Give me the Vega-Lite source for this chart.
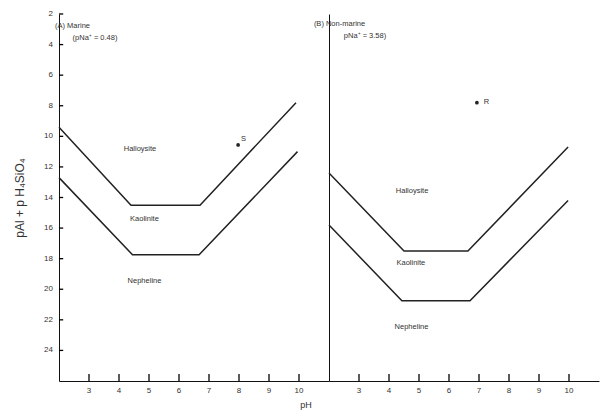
{
  "$schema": "https://vega.github.io/schema/vega-lite/v6.json",
  "padding": {"left": 13, "top": 10, "right": 2, "bottom": 5},
  "background": "white",
  "spacing": 0,
  "bounds": "flush",
  "title": {"text": "pH", "orient": "bottom", "anchor": "middle", "fontSize": 9, "font": "Liberation Sans", "fontWeight": "normal", "color": "#333", "offset": 6},
  "config": {
    "view": {"stroke": null},
    "concat": {"spacing": 0},
    "font": "Liberation Sans",
    "axis": {"domainColor": "#111", "grid": false, "labels": false, "ticks": false, "titleFont": "Liberation Sans", "titleFontWeight": "normal", "titleColor": "#333"}
  },
  "datasets": {
    "lines": [
      {"panel": "A", "boundary": "upper", "ord": 1, "pH": 2.0, "pAl": 9.4},
      {"panel": "A", "boundary": "upper", "ord": 2, "pH": 4.4, "pAl": 14.5},
      {"panel": "A", "boundary": "upper", "ord": 3, "pH": 6.7, "pAl": 14.5},
      {"panel": "A", "boundary": "upper", "ord": 4, "pH": 9.9, "pAl": 7.8},
      {"panel": "A", "boundary": "lower", "ord": 1, "pH": 2.0, "pAl": 12.7},
      {"panel": "A", "boundary": "lower", "ord": 2, "pH": 4.45, "pAl": 17.75},
      {"panel": "A", "boundary": "lower", "ord": 3, "pH": 6.67, "pAl": 17.75},
      {"panel": "A", "boundary": "lower", "ord": 4, "pH": 9.95, "pAl": 11.0},
      {"panel": "B", "boundary": "upper", "ord": 1, "pH": 2.0, "pAl": 12.4},
      {"panel": "B", "boundary": "upper", "ord": 2, "pH": 4.5, "pAl": 17.5},
      {"panel": "B", "boundary": "upper", "ord": 3, "pH": 6.63, "pAl": 17.5},
      {"panel": "B", "boundary": "upper", "ord": 4, "pH": 9.97, "pAl": 10.7},
      {"panel": "B", "boundary": "lower", "ord": 1, "pH": 2.0, "pAl": 15.8},
      {"panel": "B", "boundary": "lower", "ord": 2, "pH": 4.43, "pAl": 20.75},
      {"panel": "B", "boundary": "lower", "ord": 3, "pH": 6.7, "pAl": 20.75},
      {"panel": "B", "boundary": "lower", "ord": 4, "pH": 9.97, "pAl": 14.2}
    ],
    "points": [
      {"panel": "A", "name": "S", "pH": 7.97, "pAl": 10.56},
      {"panel": "B", "name": "R", "pH": 6.93, "pAl": 7.8}
    ],
    "labels": [
      {"panel": "A", "text": "Halloysite", "pH": 4.7, "pAl": 10.8, "align": "center"},
      {"panel": "A", "text": "Kaolinite", "pH": 4.85, "pAl": 15.4, "align": "center"},
      {"panel": "A", "text": "Nepheline", "pH": 4.85, "pAl": 19.45, "align": "center"},
      {"panel": "A", "text": "S", "pH": 8.15, "pAl": 10.2, "align": "left"},
      {"panel": "A", "text": "(A)  Marine", "pH": 2.45, "pAl": 2.8, "align": "left"},
      {"panel": "A", "text": "(pNa⁺ = 0.48)", "pH": 3.2, "pAl": 3.6, "align": "left"},
      {"panel": "B", "text": "Halloysite", "pH": 4.77, "pAl": 13.6, "align": "center"},
      {"panel": "B", "text": "Kaolinite", "pH": 4.73, "pAl": 18.3, "align": "center"},
      {"panel": "B", "text": "Nepheline", "pH": 4.75, "pAl": 22.5, "align": "center"},
      {"panel": "B", "text": "R", "pH": 7.25, "pAl": 7.75, "align": "left"},
      {"panel": "B", "text": "(B)  Non-marine", "pH": 2.35, "pAl": 2.65, "align": "left"},
      {"panel": "B", "text": "pNa⁺ = 3.58)", "pH": 3.2, "pAl": 3.45, "align": "left"}
    ],
    "xticks": [{"pH": 3}, {"pH": 4}, {"pH": 5}, {"pH": 6}, {"pH": 7}, {"pH": 8}, {"pH": 9}, {"pH": 10}],
    "yticks": [{"pAl": 2}, {"pAl": 4}, {"pAl": 6}, {"pAl": 8}, {"pAl": 10}, {"pAl": 12}, {"pAl": 14}, {"pAl": 16}, {"pAl": 18}, {"pAl": 20}, {"pAl": 22}, {"pAl": 24}]
  },
  "hconcat": [
    {
      "width": 270,
      "height": 367,
      "layer": [
        {
          "data": {"name": "lines"},
          "transform": [{"filter": "datum.panel === 'A'"}],
          "mark": {"type": "line", "color": "#222", "strokeWidth": 1.5},
          "encoding": {
            "x": {"field": "pH", "type": "quantitative", "scale": {"domain": [2, 11], "nice": false, "zero": false}, "axis": {"title": null}},
            "y": {"field": "pAl", "type": "quantitative", "scale": {"domain": [2, 26], "reverse": true, "nice": false, "zero": false},
                  "axis": {"title": "pAl + p H₄SiO₄", "titleFontSize": 12, "titlePadding": 33}},
            "detail": {"field": "boundary"},
            "order": {"field": "ord"}
          }
        },
        {
          "data": {"name": "xticks"},
          "mark": {"type": "rule", "color": "#000", "strokeWidth": 1.3},
          "encoding": {"x": {"field": "pH", "type": "quantitative"}, "y": {"datum": 26, "type": "quantitative"}, "y2": {"datum": 25.55}}
        },
        {
          "data": {"name": "xticks"},
          "mark": {"type": "text", "fontSize": 8, "color": "#333", "baseline": "top", "align": "center", "dy": 6},
          "encoding": {"x": {"field": "pH", "type": "quantitative"}, "y": {"datum": 26, "type": "quantitative"}, "text": {"field": "pH", "type": "quantitative"}}
        },
        {
          "data": {"name": "yticks"},
          "mark": {"type": "rule", "color": "#000", "strokeWidth": 1.3},
          "encoding": {"y": {"field": "pAl", "type": "quantitative"}, "x": {"datum": 2, "type": "quantitative"}, "x2": {"datum": 2.14}}
        },
        {
          "data": {"name": "yticks"},
          "mark": {"type": "text", "fontSize": 8, "color": "#333", "baseline": "middle", "align": "right", "dx": -6},
          "encoding": {"y": {"field": "pAl", "type": "quantitative"}, "x": {"datum": 2, "type": "quantitative"}, "text": {"field": "pAl", "type": "quantitative"}}
        },
        {
          "data": {"name": "points"},
          "transform": [{"filter": "datum.panel === 'A'"}],
          "mark": {"type": "point", "filled": true, "color": "#222", "size": 14, "opacity": 1},
          "encoding": {"x": {"field": "pH", "type": "quantitative"}, "y": {"field": "pAl", "type": "quantitative"}}
        },
        {
          "data": {"name": "labels"},
          "transform": [{"filter": "datum.panel === 'A'"}],
          "mark": {"type": "text", "fontSize": 7.5, "color": "#333", "baseline": "middle"},
          "encoding": {"x": {"field": "pH", "type": "quantitative"}, "y": {"field": "pAl", "type": "quantitative"}, "text": {"field": "text"}, "align": {"field": "align", "type": "nominal", "scale": null}}
        }
      ]
    },
    {
      "width": 270,
      "height": 367,
      "layer": [
        {
          "data": {"name": "lines"},
          "transform": [{"filter": "datum.panel === 'B'"}],
          "mark": {"type": "line", "color": "#222", "strokeWidth": 1.5},
          "encoding": {
            "x": {"field": "pH", "type": "quantitative", "scale": {"domain": [2, 11], "nice": false, "zero": false}, "axis": {"title": null}},
            "y": {"field": "pAl", "type": "quantitative", "scale": {"domain": [2, 26], "reverse": true, "nice": false, "zero": false},
                  "axis": {"title": null, "minExtent": 0, "maxExtent": 0}},
            "detail": {"field": "boundary"},
            "order": {"field": "ord"}
          }
        },
        {
          "data": {"name": "xticks"},
          "mark": {"type": "rule", "color": "#000", "strokeWidth": 1.3},
          "encoding": {"x": {"field": "pH", "type": "quantitative"}, "y": {"datum": 26, "type": "quantitative"}, "y2": {"datum": 25.55}}
        },
        {
          "data": {"name": "xticks"},
          "mark": {"type": "text", "fontSize": 8, "color": "#333", "baseline": "top", "align": "center", "dy": 6},
          "encoding": {"x": {"field": "pH", "type": "quantitative"}, "y": {"datum": 26, "type": "quantitative"}, "text": {"field": "pH", "type": "quantitative"}}
        },
        {
          "data": {"name": "points"},
          "transform": [{"filter": "datum.panel === 'B'"}],
          "mark": {"type": "point", "filled": true, "color": "#222", "size": 14, "opacity": 1},
          "encoding": {"x": {"field": "pH", "type": "quantitative"}, "y": {"field": "pAl", "type": "quantitative"}}
        },
        {
          "data": {"name": "labels"},
          "transform": [{"filter": "datum.panel === 'B'"}],
          "mark": {"type": "text", "fontSize": 7.5, "color": "#333", "baseline": "middle"},
          "encoding": {"x": {"field": "pH", "type": "quantitative"}, "y": {"field": "pAl", "type": "quantitative"}, "text": {"field": "text"}, "align": {"field": "align", "type": "nominal", "scale": null}}
        }
      ]
    }
  ]
}
